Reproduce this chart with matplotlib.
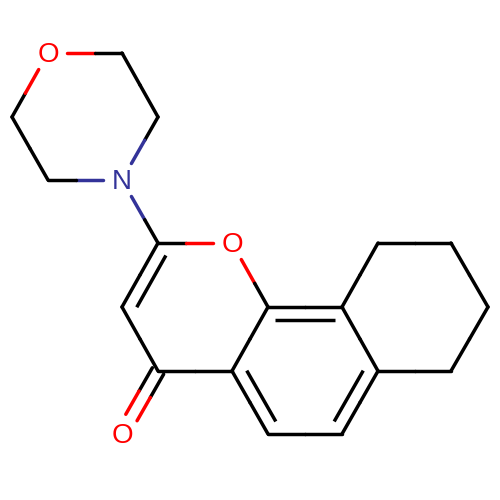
import numpy as np
import matplotlib
matplotlib.use("Agg")
import matplotlib.pyplot as plt

# atom positions (pixels)
atom_names = ["O1", "C2", "C3", "N4", "C5", "C6", "C7", "C8", "O9", "C10", "O11",
              "C12", "C13", "C14", "C15", "C16", "C17", "C18", "C19", "C20", "C21"]
atom_x = [48, 122, 158, 122, 48, 12, 158, 122, 232, 158, 122,
          232, 268, 268, 342, 342, 378, 378, 451, 488, 451]
atom_y = [53, 53, 117, 180, 180, 117, 243, 307, 243, 371, 434,
          371, 307, 434, 307, 434, 243, 371, 243, 307, 371]

labels = {"O1": "O", "N4": "N", "O9": "O", "O11": "O"}
label_colors = {"O": "#ff0000", "N": "#333399"}

single_bonds = [("O1", "C2"), ("C2", "C3"), ("C3", "N4"), ("N4", "C5"), ("C5", "C6"), ("C6", "O1"),
                ("N4", "C7"), ("C7", "O9"), ("O9", "C13"), ("C8", "C10"), ("C10", "C12"),
                ("C12", "C13"), ("C14", "C16"), ("C15", "C17"), ("C17", "C19"), ("C19", "C20"),
                ("C20", "C21"), ("C21", "C18"), ("C18", "C15")]
# second line is drawn on the inner side, towards the given ring centre
ring_bonds = [("C7", "C8", "pyranone"), ("C12", "C14", "benzene"),
              ("C16", "C18", "benzene"), ("C13", "C15", "benzene")]
ring_centres = {"pyranone": (195, 307), "benzene": (305, 371)}
carbonyl = ("C10", "O11")

pos = {n: np.array([x, y], float) for n, x, y in zip(atom_names, atom_x, atom_y)}

GAP = 19
LW = 2.5
OFFSET_INNER = 13
OFFSET_CO = 6.5
SHORTEN = 7


def color_of(name):
    return label_colors[labels[name]] if name in labels else "black"


def draw_bond(ax, a, b, col_a, col_b, gap_a, gap_b):
    # the colour changes halfway along the visible part of the bond
    d = (b - a) / np.linalg.norm(b - a)
    start = a + d * gap_a
    end = b - d * gap_b
    mid = (start + end) / 2
    ax.plot([start[0], mid[0]], [start[1], mid[1]], color=col_a, lw=LW, solid_capstyle="round")
    ax.plot([mid[0], end[0]], [mid[1], end[1]], color=col_b, lw=LW, solid_capstyle="round")


fig = plt.figure(figsize=(5, 5), dpi=100)
ax = fig.add_axes([0, 0, 1, 1])
ax.set_xlim(0, 500)
ax.set_ylim(500, 0)
ax.axis("off")

for n1, n2 in single_bonds:
    draw_bond(ax, pos[n1], pos[n2], color_of(n1), color_of(n2),
              GAP if n1 in labels else 0, GAP if n2 in labels else 0)

for n1, n2, ring in ring_bonds:
    a, b = pos[n1], pos[n2]
    draw_bond(ax, a, b, "black", "black", 0, 0)
    d = (b - a) / np.linalg.norm(b - a)
    normal = np.array([-d[1], d[0]])
    if np.dot(np.array(ring_centres[ring]) - (a + b) / 2, normal) < 0:
        normal = -normal
    p = a + normal * OFFSET_INNER + d * SHORTEN
    q = b + normal * OFFSET_INNER - d * SHORTEN
    ax.plot([p[0], q[0]], [p[1], q[1]], color="black", lw=LW, solid_capstyle="butt")

# carbonyl, two lines either side of the bond axis
a, b = pos[carbonyl[0]], pos[carbonyl[1]]
d = (b - a) / np.linalg.norm(b - a)
normal = np.array([-d[1], d[0]])
for side in (-OFFSET_CO, OFFSET_CO):
    draw_bond(ax, a + normal * side, b + normal * side, "black", "#ff0000", 0, GAP)

for name, text in labels.items():
    ax.text(pos[name][0], pos[name][1] + 2, text, color=label_colors[text],
            family="Liberation Sans", fontsize=20, ha="center", va="center")

fig.savefig("out.png", dpi=100, facecolor="white")
